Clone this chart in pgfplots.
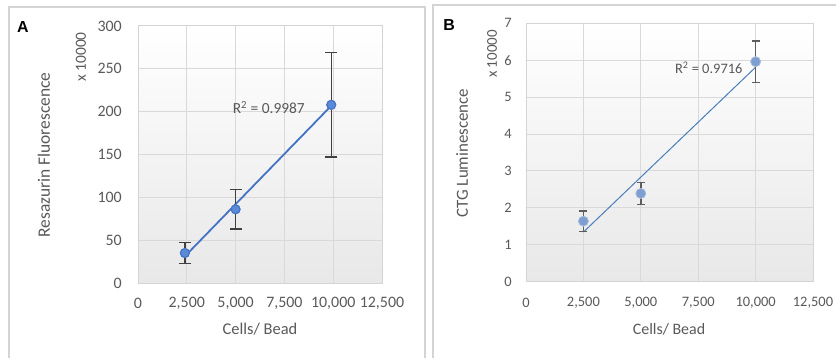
\documentclass[border=0pt]{standalone}
\usepackage{pgfplots}
\pgfplotsset{compat=1.18}
\usepackage{fontspec}
\setmainfont{Carlito}
\newfontfamily\arialfont{Liberation Sans}
\definecolor{tickgray}{HTML}{595959}
\definecolor{gridgray}{HTML}{D9D9D9}
\definecolor{framegray}{HTML}{D4D4D4}
\definecolor{lineA}{HTML}{4472C4}
\definecolor{markA}{HTML}{5B8BD6}
\definecolor{lineB}{HTML}{4A7EBB}
\definecolor{markB}{HTML}{7F9ED0}
\definecolor{errgray}{HTML}{404040}
\begin{document}
\begin{tikzpicture}[x=1bp,y=1bp]
\useasboundingbox (0,0) rectangle (836,358);
% panel frames
\draw[framegray, line width=1.2bp] (9,0) -- (9,351) -- (425,351) -- (425,0);
\draw[framegray, line width=1.2bp] (433,0) -- (433,353) -- (836,353);
\pgfplotsset{
  common/.style={
    scale only axis,
    anchor=south west,
    xmin=0, xmax=12500,
    xtick={0,2500,5000,7500,10000,12500},
    scaled x ticks=false, scaled y ticks=false,
    major tick length=0pt,
    grid=major,
    major grid style={gridgray, line width=1bp},
    axis line style={framegray, line width=1bp},
    axis background/.style={top color=white, bottom color=black!9},
    tick label style={text=tickgray},
    /pgf/number format/assume math mode=true,
    /pgf/number format/.cd, 1000 sep={,},
  }
}
% ---------------- Panel A
\begin{axis}[common,
  at={(138bp,75bp)}, width=244bp, height=257bp,
  ymin=0, ymax=300, ytick={0,50,...,300},
  tick label style={font=\fontsize{16}{18}\selectfont},
  xticklabel style={anchor=center, yshift=-20bp},
  yticklabel style={anchor=east, inner sep=0pt, xshift=-16bp},
]
\addplot[lineA, line width=1.8bp] coordinates {(2400,31.1) (9900,206.9)};
\addplot[only marks, mark=*, mark size=4.5bp,
  mark options={fill=markA, draw=lineA, line width=1.2bp},
  error bars/.cd, y dir=both, y explicit,
  error bar style={errgray, line width=1.4bp},
  error mark options={rotate=90, mark size=6bp, errgray, line width=1.4bp}]
  coordinates {
  (2400,35) +- (0,12)
  (5000,86) +- (0,23)
  (9900,208) +- (0,61)
};
\node[text=tickgray, font=\fontsize{15.5}{17}\selectfont] at (axis cs:6700,205) {R\textsuperscript{2} = 0.9987};
\end{axis}
\node[text=tickgray, font=\fontsize{17.5}{19}\selectfont, rotate=90] at (44,203) {Resazurin Fluorescence};
\node[text=tickgray, font=\fontsize{15.5}{17}\selectfont, rotate=90] at (81,301) {x 10000};
\node[text=tickgray, font=\fontsize{16.5}{18}\selectfont] at (260,29) {Cells/ Bead};
\node[font=\arialfont\bfseries\fontsize{16}{18}\selectfont] at (23,331) {A};
% ---------------- Panel B
\begin{axis}[common,
  at={(526bp,76.3bp)}, width=287bp, height=258.4bp,
  ymin=0, ymax=7, ytick={0,1,...,7},
  tick label style={font=\fontsize{14.5}{17}\selectfont},
  xticklabel style={anchor=center, yshift=-21bp},
  yticklabel style={anchor=east, inner sep=0pt, xshift=-14bp},
]
\addplot[lineB, line width=1bp] coordinates {(2500,1.344) (10000,5.81)};
\addplot[only marks, mark=*, mark size=5bp,
  mark options={fill=markB, draw=markB!70!white, line width=0.8bp},
  error bars/.cd, y dir=both, y explicit,
  error bar style={errgray!85, line width=1.4bp},
  error mark options={rotate=90, mark size=4bp, errgray!85, line width=1.4bp}]
  coordinates {
  (2500,1.64) +- (0,0.28)
  (5000,2.39) +- (0,0.30)
  (10000,5.96) +- (0,0.56)
};
\node[text=tickgray, font=\fontsize{14.5}{17}\selectfont] at (axis cs:7960,5.8) {R\textsuperscript{2} = 0.9716};
\end{axis}
\node[text=tickgray, font=\fontsize{17}{19}\selectfont, rotate=90] at (462,205) {CTG Luminescence};
\node[text=tickgray, font=\fontsize{15}{17}\selectfont, rotate=90] at (492,304) {x 10000};
\node[text=tickgray, font=\fontsize{16}{18}\selectfont] at (669,29) {Cells/ Bead};
\node[font=\arialfont\bfseries\fontsize{16}{18}\selectfont] at (449,333) {B};
\end{tikzpicture}
\end{document}
